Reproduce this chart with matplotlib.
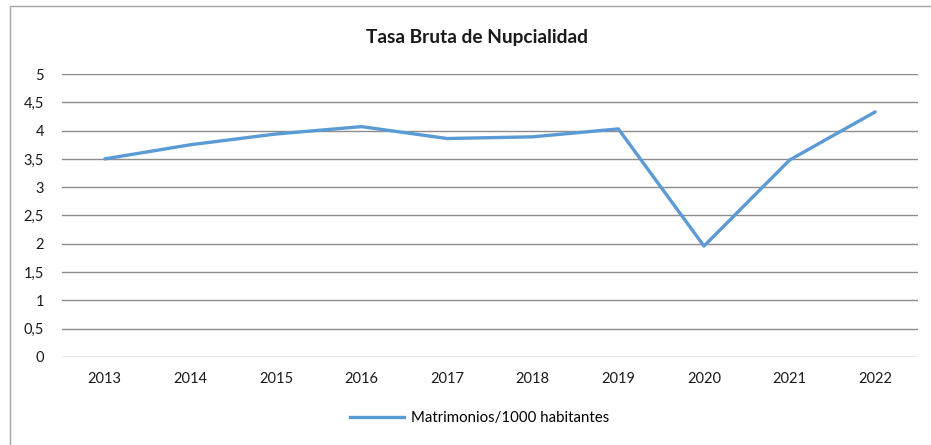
import matplotlib.pyplot as plt
from matplotlib.patches import Rectangle
from matplotlib.lines import Line2D

years = ['2013', '2014', '2015', '2016', '2017', '2018', '2019', '2020', '2021', '2022']
tasa = [3.50, 3.75, 3.94, 4.07, 3.86, 3.89, 4.03, 1.96, 3.48, 4.33]
yticks = [0, 0.5, 1, 1.5, 2, 2.5, 3, 3.5, 4, 4.5, 5]
ytick_labels = ['0', '0,5', '1', '1,5', '2', '2,5', '3', '3,5', '4', '4,5', '5']

plt.rcParams['font.family'] = ['Lato', 'DejaVu Sans']

fig = plt.figure(figsize=(9.31, 4.45), dpi=100)
ax = fig.add_axes([0.0666, 0.1978, 0.9194, 0.6359])

# outer chart border (only left/top visible in the crop)
fig.patches.append(Rectangle((10/931, -0.1), 1.2, 1 - 6/445 + 0.1, transform=fig.transFigure,
                             fill=False, edgecolor='#a6a6a6', linewidth=1))

ax.plot(range(len(years)), tasa, color='#5b9bd5', linewidth=2.4, solid_capstyle='round')

ax.set_xlim(-0.5, len(years) - 0.5)
ax.set_ylim(0, 5)
ax.set_xticks(range(len(years)))
ax.set_xticklabels(years, fontsize=10.5, color='#1a1a1a')
ax.set_yticks(yticks)
ax.set_yticklabels(ytick_labels, fontsize=10.5, color='#1a1a1a')
ax.tick_params(length=0)
ax.tick_params(axis='x', pad=11)
ax.tick_params(axis='y', pad=13)
ax.grid(axis='y', color='#8c8c8c', linewidth=1)
ax.set_axisbelow(True)
for s in ax.spines.values():
    s.set_visible(False)

fig.text(0.512, 0.915, 'Tasa Bruta de Nupcialidad', ha='center', va='center',
         fontsize=13.8, fontweight='bold', color='#1a1a1a')

handle = Line2D([], [], color='#5b9bd5', linewidth=2.4)
fig.legend([handle], ['Matrimonios/1000 habitantes'], loc='center',
           bbox_to_anchor=(0.515, 0.06), frameon=False, fontsize=10.8,
           handlelength=3.6, handletextpad=0.5)

plt.savefig('out.png', dpi=100)
